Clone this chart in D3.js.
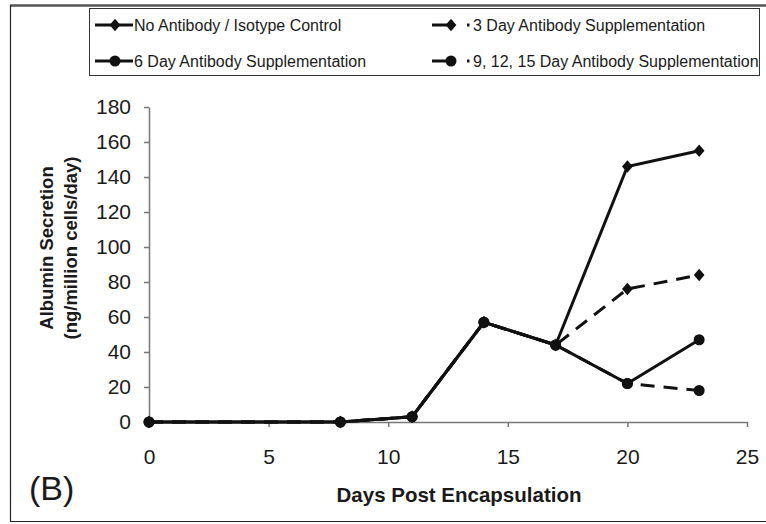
<!DOCTYPE html>
<html><head><meta charset="utf-8">
<script src="https://cdn.jsdelivr.net/npm/d3@7"></script>
<style>body{margin:0;background:#fff}svg{display:block}text{font-family:Arial,"Liberation Sans",sans-serif;fill:#1a1a1a}</style>
</head><body><svg id="c" width="766" height="524"></svg>
<script>
const days = [0, 8, 11, 14, 17, 20, 23];
const noAntibody = [0, 0, 3, 57, 44, 146, 155];
const day3 = [0, 0, 3, 57, 44, 76, 84];
const day6 = [0, 0, 3, 57, 44, 22, 47];
const day91215 = [0, 0, 3, 57, 44, 22, 18];
const seriesNames = ["No Antibody / Isotype Control", "3 Day Antibody Supplementation", "6 Day Antibody Supplementation", "9, 12, 15 Day Antibody Supplementation"];
const xTicks = [0, 5, 10, 15, 20, 25];
const yTicks = [0, 20, 40, 60, 80, 100, 120, 140, 160, 180];

const svg = d3.select("#c");
// outer frame
svg.append("line").attr("x1",10).attr("x2",766).attr("y1",5.5).attr("y2",5.5).attr("stroke","#555").attr("stroke-width",2.5);
svg.append("line").attr("x1",10.5).attr("x2",10.5).attr("y1",5).attr("y2",522).attr("stroke","#222").attr("stroke-width",1.2);
svg.append("line").attr("x1",10).attr("x2",766).attr("y1",521.5).attr("y2",521.5).attr("stroke","#222").attr("stroke-width",1.2);

const x = d3.scaleLinear().domain([0,25]).range([149,747]);
const y = d3.scaleLinear().domain([0,180]).range([422,107]);

const xa = svg.append("g").attr("transform","translate(0,422)")
  .call(d3.axisBottom(x).tickValues(xTicks).tickSize(5).tickSizeOuter(0).tickPadding(22));
const ya = svg.append("g").attr("transform","translate(149,0)")
  .call(d3.axisLeft(y).tickValues(yTicks).tickSize(5).tickSizeOuter(0).tickPadding(13));
[xa,ya].forEach(a=>{
  a.select(".domain").attr("stroke","#777").attr("stroke-width",1.5);
  a.selectAll(".tick line").attr("stroke","#777").attr("stroke-width",1.5);
  a.selectAll(".tick text").attr("font-size",21).style("fill","#1a1a1a").attr("font-family","Arial, 'Liberation Sans', sans-serif");
});

svg.append("text").attr("x",459).attr("y",502).attr("text-anchor","middle").attr("font-size",20.5).attr("font-weight","bold").text("Days Post Encapsulation");
svg.append("text").attr("transform","translate(53,248) rotate(-90)").attr("text-anchor","middle").attr("font-size",18.5).attr("font-weight","bold").text("Albumin Secretion");
svg.append("text").attr("transform","translate(77,248) rotate(-90)").attr("text-anchor","middle").attr("font-size",18.5).attr("font-weight","bold").text("(ng/million cells/day)");
svg.append("text").attr("x",29).attr("y",500).attr("font-size",34).text("(B)");

const diamond = {draw(ctx, size){ const w = Math.sqrt(size)*0.62, h = Math.sqrt(size)*0.72;
  ctx.moveTo(0,-h); ctx.lineTo(w,0); ctx.lineTo(0,h); ctx.lineTo(-w,0); ctx.closePath(); }};
const series = [
  {name:seriesNames[0], vals:noAntibody, dash:null, shape:diamond},
  {name:seriesNames[1], vals:day3, dash:"14,9", shape:diamond},
  {name:seriesNames[2], vals:day6, dash:null, shape:d3.symbolCircle},
  {name:seriesNames[3], vals:day91215, dash:"14,9", shape:d3.symbolCircle}
];
const symSize = s => s===d3.symbolCircle ? 95 : 75;
const line = d3.line().x((d,i)=>x(days[i])).y(d=>y(d));
series.forEach(s=>{
  svg.append("path").attr("d",line(s.vals)).attr("fill","none").attr("stroke","#111").attr("stroke-width",3)
    .attr("stroke-dasharray",s.dash);
});
series.forEach(s=>{
  svg.selectAll(null).data(s.vals).enter().append("path")
    .attr("transform",(d,i)=>`translate(${x(days[i])},${y(d)})`)
    .attr("d",d3.symbol().type(s.shape).size(symSize(s.shape))).attr("fill","#111");
});

// legend
const lg = svg.append("g");
lg.append("rect").attr("x",89.5).attr("y",8.5).attr("width",670).attr("height",67).attr("fill","#fff").attr("stroke","#333").attr("stroke-width",1);
const lpos = [{x:95,y:25},{x:432,y:25},{x:95,y:61},{x:432,y:61}];
series.forEach((s,i)=>{
  const p = lpos[i];
  if (s.dash) {
    lg.append("line").attr("x1",p.x).attr("x2",p.x+19).attr("y1",p.y).attr("y2",p.y).attr("stroke","#111").attr("stroke-width",3);
    lg.append("line").attr("x1",p.x+35).attr("x2",p.x+37.5).attr("y1",p.y).attr("y2",p.y).attr("stroke","#111").attr("stroke-width",3);
    lg.append("path").attr("transform",`translate(${p.x+19},${p.y})`).attr("d",d3.symbol().type(s.shape).size(symSize(s.shape))).attr("fill","#111");
    lg.append("text").attr("x",p.x+41).attr("y",p.y+5.5).attr("font-size",16).text(s.name);
  } else {
    lg.append("line").attr("x1",p.x).attr("x2",p.x+38).attr("y1",p.y).attr("y2",p.y).attr("stroke","#111").attr("stroke-width",3);
    lg.append("path").attr("transform",`translate(${p.x+20},${p.y})`).attr("d",d3.symbol().type(s.shape).size(symSize(s.shape))).attr("fill","#111");
    lg.append("text").attr("x",p.x+39).attr("y",p.y+5.5).attr("font-size",16).text(s.name);
  }
});
</script></body></html>
